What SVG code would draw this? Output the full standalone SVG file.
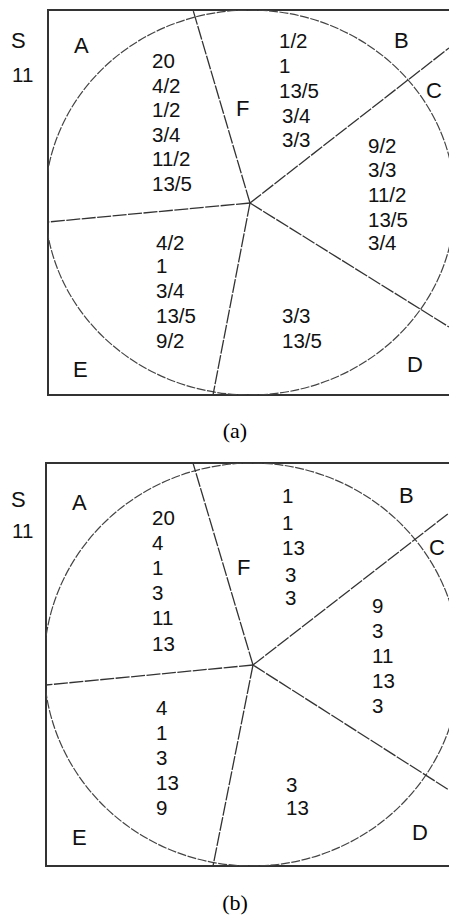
<svg xmlns="http://www.w3.org/2000/svg" width="449" height="918" viewBox="0 0 449 918">
<style>
  .t { font-family: "Liberation Sans", Arial, sans-serif; font-size: 20.5px; fill: #111; }
  .L { font-size: 22px; }
  .cap { font-family: "Liberation Serif", "Times New Roman", serif; font-size: 22px; fill: #000; text-anchor: middle; }
  .frame { fill: none; stroke: #333; stroke-width: 2; }
  .arc { fill: none; stroke: #444; stroke-width: 1.2; stroke-dasharray: 9 1.5; }
  .ray { fill: none; stroke: #333; stroke-width: 1.3; stroke-dasharray: 14 1.5; }
</style>
<defs>
  <clipPath id="clipA"><rect x="48" y="10" width="401" height="385"/></clipPath>
  <clipPath id="clipB"><rect x="46" y="463" width="403" height="403"/></clipPath>
</defs>
<rect width="449" height="918" fill="#fff"/>

<!-- Panel (a) -->
<g id="panel-a">
  <path class="frame" d="M449,10 H48 V395 H449"/>
  <g id="connectors-a" clip-path="url(#clipA)">
    <ellipse class="arc" cx="250" cy="202.5" rx="205" ry="192.5"/>
    <line class="ray" x1="250" y1="203" x2="193" y2="10"/>
    <line class="ray" x1="250" y1="203" x2="449" y2="48"/>
    <line class="ray" x1="250" y1="203" x2="449" y2="327"/>
    <line class="ray" x1="250" y1="203" x2="213" y2="395"/>
    <line class="ray" x1="250" y1="203" x2="48" y2="222"/>
  </g>
  <g id="a-S"><text class="t L" x="11" y="48">S</text><text class="t" x="12" y="82">11</text></g>
  <g id="a-A"><text class="t L" x="74" y="53">A</text>
    <text class="t" x="152" y="68">20</text><text class="t" x="152" y="92.5">4/2</text><text class="t" x="152" y="117">1/2</text>
    <text class="t" x="152" y="141.5">3/4</text><text class="t" x="152" y="166">11/2</text><text class="t" x="152" y="190.5">13/5</text></g>
  <g id="a-F"><text class="t L" x="236" y="116">F</text>
    <text class="t" x="279" y="48">1/2</text><text class="t" x="279" y="73">1</text><text class="t" x="279" y="98">13/5</text>
    <text class="t" x="282" y="123">3/4</text><text class="t" x="282" y="147">3/3</text></g>
  <g id="a-B"><text class="t L" x="394" y="48">B</text></g>
  <g id="a-C"><text class="t L" x="426" y="98">C</text>
    <text class="t" x="368" y="153">9/2</text><text class="t" x="368" y="177">3/3</text><text class="t" x="368" y="202">11/2</text>
    <text class="t" x="368" y="227">13/5</text><text class="t" x="368" y="250">3/4</text></g>
  <g id="a-D"><text class="t L" x="407" y="372">D</text>
    <text class="t" x="282" y="323">3/3</text><text class="t" x="282" y="348">13/5</text></g>
  <g id="a-E"><text class="t L" x="73" y="377">E</text>
    <text class="t" x="156" y="250">4/2</text><text class="t" x="156" y="273">1</text><text class="t" x="156" y="298">3/4</text>
    <text class="t" x="156" y="323">13/5</text><text class="t" x="156" y="348">9/2</text></g>
  <text class="cap" x="235" y="438">(a)</text>
</g>

<!-- Panel (b) -->
<g id="panel-b">
  <path class="frame" d="M449,463 H46 V866 H449"/>
  <g id="connectors-b" clip-path="url(#clipB)">
    <ellipse class="arc" cx="252" cy="664.5" rx="208" ry="201.5"/>
    <line class="ray" x1="253" y1="665" x2="193" y2="463"/>
    <line class="ray" x1="253" y1="665" x2="449" y2="513"/>
    <line class="ray" x1="253" y1="665" x2="449" y2="790"/>
    <line class="ray" x1="253" y1="665" x2="213" y2="866"/>
    <line class="ray" x1="253" y1="665" x2="46" y2="685"/>
  </g>
  <g id="b-S"><text class="t L" x="11" y="507">S</text><text class="t" x="12" y="538">11</text></g>
  <g id="b-A"><text class="t L" x="72" y="510">A</text>
    <text class="t" x="152" y="525">20</text><text class="t" x="152" y="550">4</text><text class="t" x="152" y="575">1</text>
    <text class="t" x="152" y="600">3</text><text class="t" x="152" y="625">11</text><text class="t" x="152" y="651">13</text></g>
  <g id="b-F"><text class="t L" x="237" y="575">F</text>
    <text class="t" x="282" y="503">1</text><text class="t" x="282" y="530">1</text><text class="t" x="282" y="555">13</text>
    <text class="t" x="285" y="582">3</text><text class="t" x="285" y="605">3</text></g>
  <g id="b-B"><text class="t L" x="399" y="503">B</text></g>
  <g id="b-C"><text class="t L" x="429" y="555">C</text>
    <text class="t" x="372" y="613">9</text><text class="t" x="372" y="638">3</text><text class="t" x="372" y="663">11</text>
    <text class="t" x="372" y="688">13</text><text class="t" x="372" y="713">3</text></g>
  <g id="b-D"><text class="t L" x="412" y="840">D</text>
    <text class="t" x="286" y="792">3</text><text class="t" x="286" y="815">13</text></g>
  <g id="b-E"><text class="t L" x="72" y="845">E</text>
    <text class="t" x="156" y="715">4</text><text class="t" x="156" y="740">1</text><text class="t" x="156" y="765">3</text>
    <text class="t" x="156" y="790">13</text><text class="t" x="156" y="815">9</text></g>
  <text class="cap" x="235" y="910">(b)</text>
</g>
</svg>
